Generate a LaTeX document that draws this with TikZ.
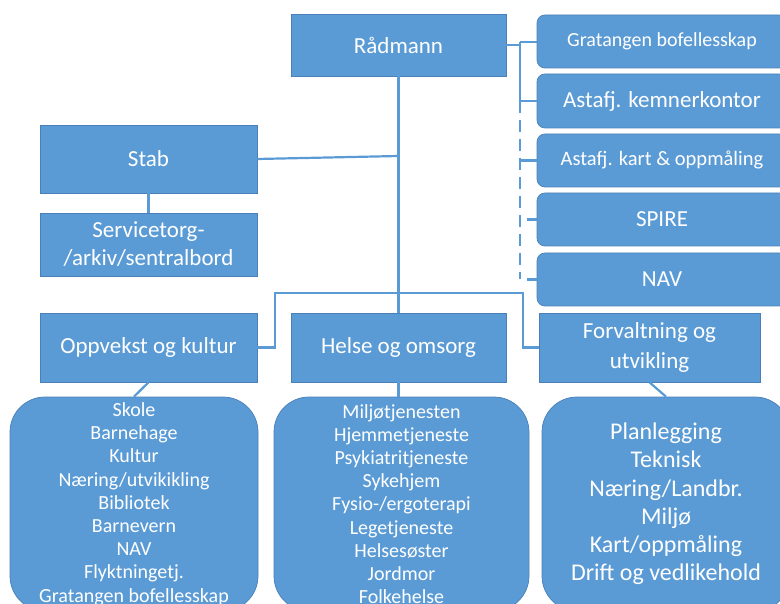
\documentclass[tikz,border=0pt]{standalone}
\usepackage{fontspec}
\setmainfont{Carlito}
\definecolor{boxblue}{HTML}{5B9BD5}
\definecolor{edgeblue}{HTML}{4A80B8}
\begin{document}
\begin{tikzpicture}[x=1pt,y=-1pt,
 box/.style={draw=edgeblue, fill=boxblue, line width=0.7pt, text=white, inner sep=0pt, align=center, font=\fontsize{23}{28}\selectfont},
 sidebox/.style={box, rounded corners=8pt, minimum width=250pt, minimum height=53pt},
 levelbox/.style={box, minimum height=69pt},
 listbox/.style={box, rounded corners=35pt, minimum height=214pt, font=\fontsize{20}{23.2}\selectfont},
 link/.style={draw=boxblue, line width=2.2pt},
 dlink/.style={link, dash pattern=on 12pt off 7pt}]
\useasboundingbox (0,0) rectangle (780,604);
\clip (0,0) rectangle (780,604);

% top
\node[box, minimum width=215pt, minimum height=62pt] (rad) at (398.5,45) {Rådmann};

% side boxes
\node[sidebox, font=\fontsize{20}{24}\selectfont] (g1) at (662,41.5) {Gratangen bofellesskap};
\node[sidebox, minimum height=54pt] (g2) at (662,101) {Astafj. kemnerkontor};
\node[sidebox, font=\fontsize{20.5}{24}\selectfont] (g3) at (662,160.5) {Astafj. kart \& oppmåling};
\node[sidebox] (g4) at (662,219.5) {SPIRE};
\node[sidebox] (g5) at (662,279.5) {NAV};

% staff
\node[box, minimum width=217pt, minimum height=68pt] (stab) at (148.5,159) {Stab};
\node[box, minimum width=217pt, minimum height=63pt] (serv) at (148.5,244.5) {Servicetorg-\\/arkiv/sentralbord};

% level boxes
\node[levelbox, minimum width=217pt] (opp) at (148.5,347.5) {Oppvekst og kultur};
\node[levelbox, minimum width=215pt] (helse) at (398.5,347.5) {Helse og omsorg};
\node[levelbox, minimum width=221pt, font=\fontsize{23}{30}\selectfont] (forv) at (649.5,347.5) {Forvaltning og\\utvikling};

% list boxes
\node[listbox, minimum width=248pt] (list1) at (134,504) {Skole\\Barnehage\\Kultur\\Næring/utvikikling\\Bibliotek\\Barnevern\\NAV\\Flyktningetj.\\Gratangen bofellesskap};
\node[listbox, minimum width=255pt] (list2) at (401.5,504) {Miljøtjenesten\\Hjemmetjeneste\\Psykiatritjeneste\\Sykehjem\\Fysio-/ergoterapi\\Legetjeneste\\Helsesøster\\Jordmor\\Folkehelse};
\node[listbox, minimum width=248pt, font=\fontsize{24}{28.2}\selectfont] (list3) at (666,504) {Planlegging\\Teknisk\\Næring/Landbr.\\Miljø\\Kart/oppmåling\\Drift og vedlikehold};

% connectors: top right
\coordinate (rj) at (520,45);
\coordinate (v1) at (520,42);
\coordinate (v2) at (520,101);
\coordinate (v5) at (520,279.5);
\draw[link] (rad.east) -- (rj);
\draw[link] (v1) -- (v2);
\draw[link] (v1) -- (v1 -| g1.west);
\draw[link] (v2) -- (g2.west);
\draw[dlink] (v2) -- (v5);
\draw[link] (v2 |- g3.west) -- (g3.west);
\draw[link] ([xshift=-10pt]g4.west) -- (g4.west);
\draw[link] ([xshift=-10pt]g5.west) -- (g5.west);

% trunk and staff
\coordinate (sj) at (398.5,156);
\draw[link] (rad.south) -- (helse.north);
\draw[link] (stab.east) -- (sj);
\draw[link] (stab.south) -- (serv.north);

% bar to level boxes
\coordinate (bl) at (275,293);
\coordinate (br) at (523,293);
\draw[link] (opp.east) -| (bl) -- (br) |- (forv.west);

% level to lists
\draw[link] (opp.south) -- (list1.north);
\draw[link] (helse.south) -- (helse.south |- list2.north);
\draw[link] (forv.south) -- (list3.north);
\end{tikzpicture}
\end{document}
